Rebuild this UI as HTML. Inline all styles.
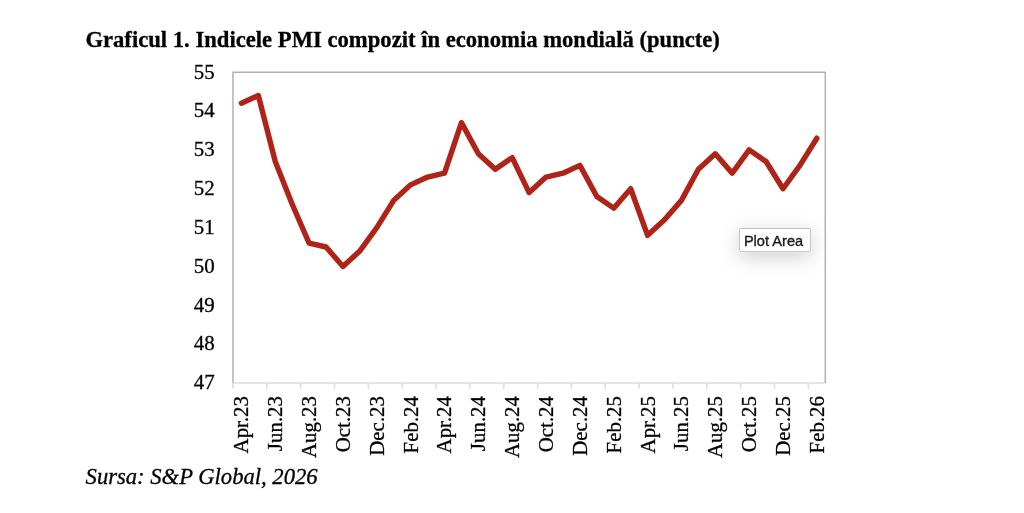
<!DOCTYPE html>
<html lang="ro"><head><meta charset="utf-8"><title>Graficul 1</title>
<style>
html,body{margin:0;padding:0;background:#fff;}
body{width:1024px;height:513px;position:relative;overflow:hidden;font-family:"Liberation Serif",serif;color:#000;}
svg{position:absolute;left:0;top:0;}
svg text{font-family:"Liberation Serif",serif;font-size:20px;fill:#000;stroke:#000;stroke-width:0.3px;}
</style></head><body>
<svg width="1024" height="513" viewBox="0 0 1024 513">
<g stroke="#dddddd" stroke-width="1.6" fill="none">
<line x1="232.95" y1="383.0" x2="825.3" y2="383.0"/>
<line x1="232.95" y1="383.0" x2="232.95" y2="388.8"/><line x1="266.80" y1="383.0" x2="266.80" y2="388.8"/><line x1="300.65" y1="383.0" x2="300.65" y2="388.8"/><line x1="334.50" y1="383.0" x2="334.50" y2="388.8"/><line x1="368.34" y1="383.0" x2="368.34" y2="388.8"/><line x1="402.19" y1="383.0" x2="402.19" y2="388.8"/><line x1="436.04" y1="383.0" x2="436.04" y2="388.8"/><line x1="469.89" y1="383.0" x2="469.89" y2="388.8"/><line x1="503.74" y1="383.0" x2="503.74" y2="388.8"/><line x1="537.59" y1="383.0" x2="537.59" y2="388.8"/><line x1="571.44" y1="383.0" x2="571.44" y2="388.8"/><line x1="605.28" y1="383.0" x2="605.28" y2="388.8"/><line x1="639.13" y1="383.0" x2="639.13" y2="388.8"/><line x1="672.98" y1="383.0" x2="672.98" y2="388.8"/><line x1="706.83" y1="383.0" x2="706.83" y2="388.8"/><line x1="740.68" y1="383.0" x2="740.68" y2="388.8"/><line x1="774.53" y1="383.0" x2="774.53" y2="388.8"/><line x1="808.38" y1="383.0" x2="808.38" y2="388.8"/>
</g>
<path d="M232.95,383.0 V72.15 H825.3 V383.0" fill="none" stroke="#b2b2b2" stroke-width="1.5"/>
<polyline points="241.41,103.23 258.34,95.46 275.26,161.52 292.19,204.26 309.11,243.12 326.03,247.00 342.96,266.43 359.88,250.89 376.81,227.57 393.73,200.38 410.65,184.83 427.58,177.06 444.50,173.18 461.43,122.66 478.35,153.75 495.28,169.29 512.20,157.63 529.12,192.60 546.05,177.06 562.97,173.18 579.90,165.40 596.82,196.49 613.75,208.15 630.67,188.72 647.60,235.35 664.52,219.80 681.44,200.38 698.37,169.29 715.29,153.75 732.22,173.18 749.14,149.86 766.06,161.52 782.99,188.72 799.91,165.40 816.84,138.21" fill="none" stroke="#b02318" stroke-width="5.4" stroke-linejoin="round" stroke-linecap="round"/>
<text x="85.4" y="47.2" style="font-weight:bold;font-size:22.65px">Graficul 1. Indicele PMI compozit în economia mondială (puncte)</text>
<text x="85.6" y="484.4" style="font-style:italic;font-size:22.62px">Sursa: S&amp;P Global, 2026</text>
<g><text x="214.7" y="389.35" text-anchor="end" style="font-size:20.9px">47</text><text x="214.7" y="350.49" text-anchor="end" style="font-size:20.9px">48</text><text x="214.7" y="311.64" text-anchor="end" style="font-size:20.9px">49</text><text x="214.7" y="272.78" text-anchor="end" style="font-size:20.9px">50</text><text x="214.7" y="233.92" text-anchor="end" style="font-size:20.9px">51</text><text x="214.7" y="195.07" text-anchor="end" style="font-size:20.9px">52</text><text x="214.7" y="156.21" text-anchor="end" style="font-size:20.9px">53</text><text x="214.7" y="117.36" text-anchor="end" style="font-size:20.9px">54</text><text x="214.7" y="78.50" text-anchor="end" style="font-size:20.9px">55</text></g>
<g><text transform="translate(248.31,396.0) rotate(-90)" text-anchor="end" style="font-size:20.9px">Apr.23</text><text transform="translate(282.16,396.0) rotate(-90)" text-anchor="end" style="font-size:20.9px">Jun.23</text><text transform="translate(316.01,396.0) rotate(-90)" text-anchor="end" style="font-size:20.9px">Aug.23</text><text transform="translate(349.86,396.0) rotate(-90)" text-anchor="end" style="font-size:20.9px">Oct.23</text><text transform="translate(383.71,396.0) rotate(-90)" text-anchor="end" style="font-size:20.9px">Dec.23</text><text transform="translate(417.55,396.0) rotate(-90)" text-anchor="end" style="font-size:20.9px">Feb.24</text><text transform="translate(451.40,396.0) rotate(-90)" text-anchor="end" style="font-size:20.9px">Apr.24</text><text transform="translate(485.25,396.0) rotate(-90)" text-anchor="end" style="font-size:20.9px">Jun.24</text><text transform="translate(519.10,396.0) rotate(-90)" text-anchor="end" style="font-size:20.9px">Aug.24</text><text transform="translate(552.95,396.0) rotate(-90)" text-anchor="end" style="font-size:20.9px">Oct.24</text><text transform="translate(586.80,396.0) rotate(-90)" text-anchor="end" style="font-size:20.9px">Dec.24</text><text transform="translate(620.65,396.0) rotate(-90)" text-anchor="end" style="font-size:20.9px">Feb.25</text><text transform="translate(654.50,396.0) rotate(-90)" text-anchor="end" style="font-size:20.9px">Apr.25</text><text transform="translate(688.34,396.0) rotate(-90)" text-anchor="end" style="font-size:20.9px">Jun.25</text><text transform="translate(722.19,396.0) rotate(-90)" text-anchor="end" style="font-size:20.9px">Aug.25</text><text transform="translate(756.04,396.0) rotate(-90)" text-anchor="end" style="font-size:20.9px">Oct.25</text><text transform="translate(789.89,396.0) rotate(-90)" text-anchor="end" style="font-size:20.9px">Dec.25</text><text transform="translate(823.74,396.0) rotate(-90)" text-anchor="end" style="font-size:20.9px">Feb.26</text></g>
<defs><filter id="sh" x="-100%" y="-200%" width="300%" height="500%"><feDropShadow dx="0" dy="5" stdDeviation="10" flood-color="#000" flood-opacity="0.19"/></filter></defs>
<rect x="739.5" y="228.5" width="70.8" height="23.2" rx="1" fill="#fff" stroke="#c2c2c2" stroke-width="1" filter="url(#sh)"/>
<text x="743.9" y="246.3" style="font-family:'Liberation Sans',sans-serif;font-size:14.6px;fill:#1a1a1a;stroke:#1a1a1a;stroke-width:0.35px">Plot Area</text>
</svg>
</body></html>
